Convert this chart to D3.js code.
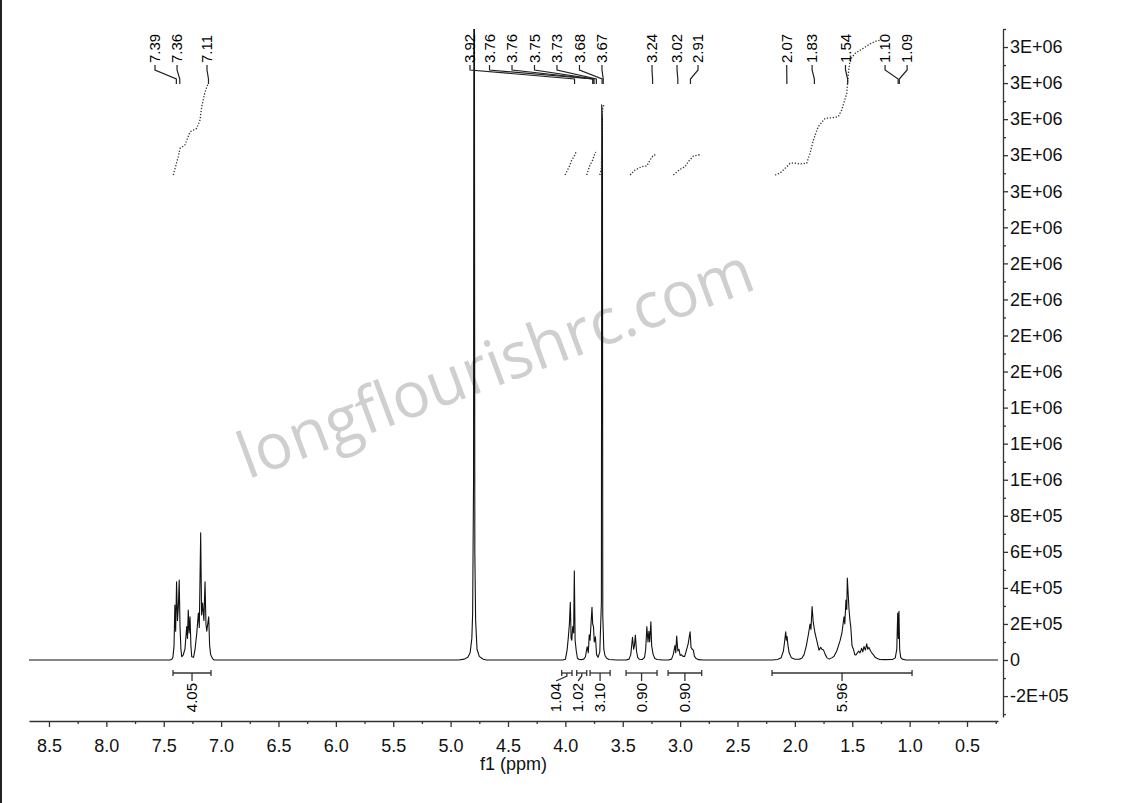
<!DOCTYPE html>
<html><head><meta charset="utf-8">
<script src="https://cdn.jsdelivr.net/npm/d3@7/dist/d3.min.js"></script>
<style>
html,body{margin:0;padding:0;background:#fff;}
svg{display:block;font-family:"Liberation Sans",Arial,sans-serif;}
</style>
</head><body>
<svg id="chart" width="1140" height="803"></svg>
<script>
// ---------------- data (ppm, intensity) ----------------
const aromaticPeaks = [[7.45,0],[7.43,3e3],[7.42,1.5e4],[7.41,8e4],[7.403,3.05e5],[7.396,1.6e5],[7.388,4.34e5],[7.38,2.2e5],[7.372,3.0e5],[7.365,4.44e5],[7.358,1.85e5],[7.35,6e4],[7.343,1.8e4],[7.33,2.8e4],[7.315,6e4],[7.300,1.85e5],[7.293,1.2e5],[7.286,2.77e5],[7.279,1.5e5],[7.271,2.4e5],[7.263,8e4],[7.256,1.8e4],[7.24,1.5e4],[7.227,6e4],[7.212,1.5e5],[7.198,2.6e5],[7.19,1.8e5],[7.178,7.05e5],[7.17,2.5e5],[7.161,3.16e5],[7.15,2.2e5],[7.14,4.34e5],[7.132,2e5],[7.125,1.6e5],[7.108,2.4e5],[7.1,8e4],[7.091,3e4],[7.075,8e3],[7.06,0]];
const waterPeak = [[4.93,0],[4.88,5e3],[4.85,1.5e4],[4.83,4e4],[4.815,1.2e5],[4.808,2.6e5],[4.80,1.0e6],[4.797,4.0e6],[4.793,4.0e6],[4.789,6e5],[4.782,2.2e5],[4.77,6e4],[4.75,2e4],[4.72,6e3],[4.69,0]];
const midPeaks = [[4.02,0],[4.00,4e3],[3.985,5.5e4],[3.975,1.2e5],[3.965,2.0e5],[3.957,3.2e5],[3.95,1.2e5],[3.944,1.1e5],[3.936,1.85e5],[3.928,1.5e5],[3.922,4.95e5],[3.915,1.1e5],[3.905,5e4],[3.895,1e4],[3.88,3e3],[3.86,2e3],
 [3.84,5e3],[3.825,1.8e4],[3.81,7.4e4],[3.80,4e4],[3.792,1.4e5],[3.785,1.1e5],[3.768,2.92e5],[3.762,2.0e5],[3.755,1.85e5],[3.748,1.0e5],[3.738,1.29e5],[3.728,3e4],[3.715,1.5e4],[3.70,4.5e4],[3.686,3.2e5],[3.683,3.08e6],[3.677,3.0e6],[3.674,2.5e5],[3.665,6e4],[3.655,2.5e4],[3.64,1e4],[3.62,3e3],[3.55,0],
 [3.47,0],[3.445,5e3],[3.43,3e4],[3.415,1.26e5],[3.405,6e4],[3.398,8e4],[3.39,1.39e5],[3.38,5e4],[3.37,1.5e4],[3.355,4e3],[3.33,3e3],[3.31,1.5e4],[3.30,6e4],[3.29,1.85e5],[3.28,1e5],[3.272,1.6e5],[3.265,1.0e5],[3.255,2.12e5],[3.248,8e4],[3.235,3e4],[3.22,8e3],[3.20,3e3],[3.15,0],
 [3.10,0],[3.075,5e3],[3.06,3e4],[3.045,8e4],[3.038,4e4],[3.03,1.33e5],[3.02,5e4],[3.01,6e4],[3.0,2.5e4],[2.99,3e4],[2.975,2e4],[2.96,2e4],[2.945,5.5e4],[2.93,9e4],[2.92,1.3e5],[2.913,1.57e5],[2.905,7e4],[2.895,6e4],[2.885,5.5e4],[2.875,2e4],[2.86,8e3],[2.84,2e3],[2.80,0]];
const aliphaticPeaks = [[2.20,0],[2.15,3e3],[2.12,1.2e4],[2.10,5e4],[2.09,1.0e5],[2.08,1.57e5],[2.074,1.1e5],[2.068,1.3e5],[2.06,8e4],[2.05,4e4],[2.03,1.2e4],[2.0,4e3],[1.96,5e3],[1.94,1e4],[1.92,3e4],[1.90,8e4],[1.88,1.5e5],[1.868,2.0e5],[1.86,1.7e5],[1.85,2.96e5],[1.84,2.1e5],[1.825,1.5e5],[1.81,1.1e5],[1.79,5.5e4],[1.775,7e4],[1.765,6e4],[1.75,5.5e4],[1.735,3e4],[1.72,1.2e4],[1.70,5e3],[1.68,1.2e4],[1.66,2e4],[1.635,5e4],[1.62,8e4],[1.605,1.1e5],[1.59,1.5e5],[1.583,1.85e5],[1.572,2.4e5],[1.565,2.0e5],[1.555,3.33e5],[1.548,2.8e5],[1.543,4.55e5],[1.536,3.7e5],[1.528,2.8e5],[1.52,2.2e5],[1.513,1.85e5],[1.502,8e4],[1.49,6e4],[1.478,3e4],[1.468,2.8e4],[1.455,4e4],[1.444,5e4],[1.432,4e4],[1.418,6.5e4],[1.408,4.5e4],[1.398,7.5e4],[1.386,5.5e4],[1.374,9e4],[1.365,6e4],[1.355,7e4],[1.34,5e4],[1.33,4e4],[1.317,3e4],[1.30,1.5e4],[1.287,1e4],[1.26,3e3],[1.215,2e3],[1.15,3e3],[1.125,1.2e4],[1.112,6e4],[1.104,2.6e5],[1.098,1.2e5],[1.093,2.7e5],[1.087,6e4],[1.078,1.5e4],[1.065,5e3],[1.03,0]];

// integral curves (ppm, cumulative protons)
const integralCurves = [
  [[7.417,0],[7.373,0.81],[7.358,1.18],[7.315,1.33],[7.271,1.91],[7.213,2.06],[7.184,2.43],[7.169,3.02],[7.140,3.68],[7.112,4.06]],
  [[4.003,0],[3.988,0.15],[3.960,0.44],[3.945,0.66],[3.925,0.81],[3.908,1.0],[3.899,1.04]],
  [[3.814,0],[3.800,0.22],[3.785,0.44],[3.762,0.66],[3.748,0.88],[3.736,1.02]],
  [[3.700,0],[3.686,0.3],[3.682,1.6],[3.677,2.9],[3.665,3.1]],
  [[3.436,0],[3.393,0.22],[3.334,0.37],[3.291,0.40],[3.262,0.66],[3.233,0.88],[3.204,0.90]],
  [[3.059,0],[3.001,0.25],[2.957,0.37],[2.929,0.59],[2.885,0.84],[2.827,0.90]],
  [[2.173,0],[2.130,0.08],[2.101,0.22],[2.071,0.37],[2.042,0.51],[2.013,0.54],[1.956,0.49],[1.897,0.52],[1.868,0.96],[1.839,1.55],[1.796,2.14],[1.737,2.51],[1.665,2.54],[1.622,2.58],[1.592,2.88],[1.548,3.61],[1.534,4.50],[1.519,5.09],[1.476,5.38],[1.403,5.61],[1.345,5.80],[1.287,5.94],[1.258,5.96]]
];

// integral ranges and values
const integralRanges = [[7.419,7.088],[4.032,3.942],[3.901,3.814],[3.785,3.61],[3.471,3.201],[3.105,2.812],[2.199,0.979]];
const integralValues = ["4.05","1.04","1.02","3.10","0.90","0.90","5.96"];

// peak picking labels
const peakLabels = ["7.39","7.36","7.11","3.92","3.76","3.76","3.75","3.73","3.68","3.67","3.24","3.02","2.91","2.07","1.83","1.54","1.10","1.09"];
const peakPpm    = [7.39,7.36,7.11,3.92,3.76,3.76,3.75,3.73,3.68,3.67,3.24,3.02,2.91,2.07,1.83,1.54,1.10,1.09];
const peakLabelPpm = [7.576,7.384,7.123,4.831,4.661,4.465,4.269,4.073,3.877,3.681,3.245,3.027,2.844,2.071,1.850,1.559,1.214,1.022];

// axes
const xTicks = [8.5,8.0,7.5,7.0,6.5,6.0,5.5,5.0,4.5,4.0,3.5,3.0,2.5,2.0,1.5,1.0,0.5];
const xMinorTicks = [8.25,7.75,7.25,6.75,6.25,5.75,5.25,4.75,4.25,3.75,3.25,2.75,2.25,1.75,1.25,0.75,0.25];
const yTicks = d3.range(-1, 18).map(i => i * 2e5);
const yMinorTicks = d3.range(-3, 36, 2).map(i => i * 1e5);
const watermark = "longflourishrc.com";
const xTitle = "f1 (ppm)";

// ---------------- drawing ----------------
const svg = d3.select("#chart");
const x = d3.scaleLinear().domain([8.674, 0.23]).range([29, 998]);
const y = d3.scaleLinear().domain([-3.16e5, 3.5e6]).range([717, 29]);
const yInt = d3.scaleLinear().domain([0, 6]).range([175, 39.4]);

svg.append("rect").attr("width",1140).attr("height",803).attr("fill","#fff");
// left frame line
svg.append("line").attr("x1",1).attr("x2",1).attr("y1",0).attr("y2",803).attr("stroke","#222").attr("stroke-width",2);

// watermark
svg.append("text").text(watermark)
  .attr("transform","translate(497,368) rotate(-20.5)")
  .attr("text-anchor","middle").attr("dominant-baseline","middle")
  .attr("font-family","'Open Sans','Noto Sans',sans-serif")
  .attr("font-size",64).attr("fill","#cfcfcf")
  .attr("textLength",545).attr("lengthAdjust","spacingAndGlyphs");

svg.append("defs").append("clipPath").attr("id","plotclip")
  .append("rect").attr("x",29).attr("y",29).attr("width",969).attr("height",692);

const spectrum = [[8.674,0], ...aromaticPeaks, ...waterPeak, ...midPeaks, ...aliphaticPeaks, [0.23,0]];
svg.append("path").datum(spectrum)
  .attr("clip-path","url(#plotclip)")
  .attr("d", d3.line().x(d => x(d[0])).y(d => y(d[1])))
  .attr("fill","none").attr("stroke","#111").attr("stroke-width",1.1).attr("stroke-linejoin","round");

// integral curves
const intLine = d3.line().x(d => x(d[0])).y(d => yInt(d[1]));
svg.append("g").selectAll("path").data(integralCurves).join("path")
  .attr("d", intLine).attr("fill","none").attr("stroke","#333")
  .attr("stroke-width",1.3).attr("stroke-dasharray","1.3,1.7");

// integral brackets
const bY = 673;
const brackets = integralRanges.map((r,i) => ({x1:x(r[0]), x2:x(r[1]), c:(x(r[0])+x(r[1]))/2, label:integralValues[i]}));
// label layout: right-to-left with min spacing
const order = d3.range(brackets.length).sort((a,b) => brackets[b].c - brackets[a].c);
let prev = Infinity;
order.forEach(i => { const p = Math.min(brackets[i].c, prev - 22); brackets[i].lx = p; prev = p; });
const bg = svg.append("g").attr("stroke","#333").attr("stroke-width",1.3).attr("fill","none");
brackets.forEach(b => {
  bg.append("line").attr("x1",b.x1).attr("x2",b.x2).attr("y1",bY).attr("y2",bY);
  bg.append("line").attr("x1",b.x1).attr("x2",b.x1).attr("y1",bY-3).attr("y2",bY+3);
  bg.append("line").attr("x1",b.x2).attr("x2",b.x2).attr("y1",bY-3).attr("y2",bY+3);
  bg.append("path").attr("d",`M${b.c},${bY} L${b.c},${bY+3} L${b.lx},${bY+8}`);
});
svg.append("g").selectAll("text").data(brackets).join("text")
  .attr("transform", d => `translate(${d.lx},${bY+10}) rotate(-90)`)
  .attr("text-anchor","end").attr("dy","0.35em")
  .attr("font-size",15).attr("fill","#000").text(d => d.label);

// peak labels
const pk = peakLabels.map((t,i) => ({t, px:x(peakPpm[i]), lx:x(peakLabelPpm[i])}));
svg.append("g").selectAll("path").data(pk).join("path")
  .attr("d", d => `M${d.lx},65 L${d.lx},70 L${d.px},79 L${d.px},84`)
  .attr("fill","none").attr("stroke","#222").attr("stroke-width",1.2);
svg.append("g").selectAll("text").data(pk).join("text")
  .attr("transform", d => `translate(${d.lx},63) rotate(-90)`)
  .attr("text-anchor","start").attr("dy","0.35em")
  .attr("font-size",15).attr("fill","#000").text(d => d.t);

// x axis
const xAxis = svg.append("g").attr("transform","translate(0,721)")
  .call(d3.axisBottom(x).tickValues(xTicks).tickFormat(d3.format(".1f")).tickSize(6).tickSizeOuter(0).tickPadding(12));
svg.append("g").attr("transform","translate(0,721)")
  .call(d3.axisBottom(x).tickValues(xMinorTicks).tickFormat("").tickSize(3).tickSizeOuter(0))
  .select(".domain").remove();
// y axis
const fmtE = v => {
  if (Math.abs(v) < 1) return "0";
  const e = Math.floor(Math.log10(Math.abs(v)) + 1e-9);
  const m = Math.round(v / Math.pow(10, e));
  return m + "E+" + String(e).padStart(2, "0");
};
svg.append("g").attr("transform","translate(1003,0)")
  .call(d3.axisRight(y).tickValues(yTicks).tickFormat(fmtE).tickSize(5).tickSizeOuter(0).tickPadding(2));
svg.append("g").attr("transform","translate(1003,0)")
  .call(d3.axisRight(y).tickValues(yMinorTicks).tickFormat("").tickSize(3).tickSizeOuter(0))
  .select(".domain").remove();

svg.selectAll(".tick text").attr("font-size",18).attr("font-family","'Liberation Sans',Arial,sans-serif").attr("fill","#111");
svg.selectAll(".domain, .tick line").attr("stroke","#333").attr("stroke-width",1.3);

svg.append("text").attr("x",(x.range()[0]+x.range()[1])/2).attr("y",770)
  .attr("text-anchor","middle").attr("font-size",18).attr("fill","#111").text(xTitle);
</script>
</body></html>
